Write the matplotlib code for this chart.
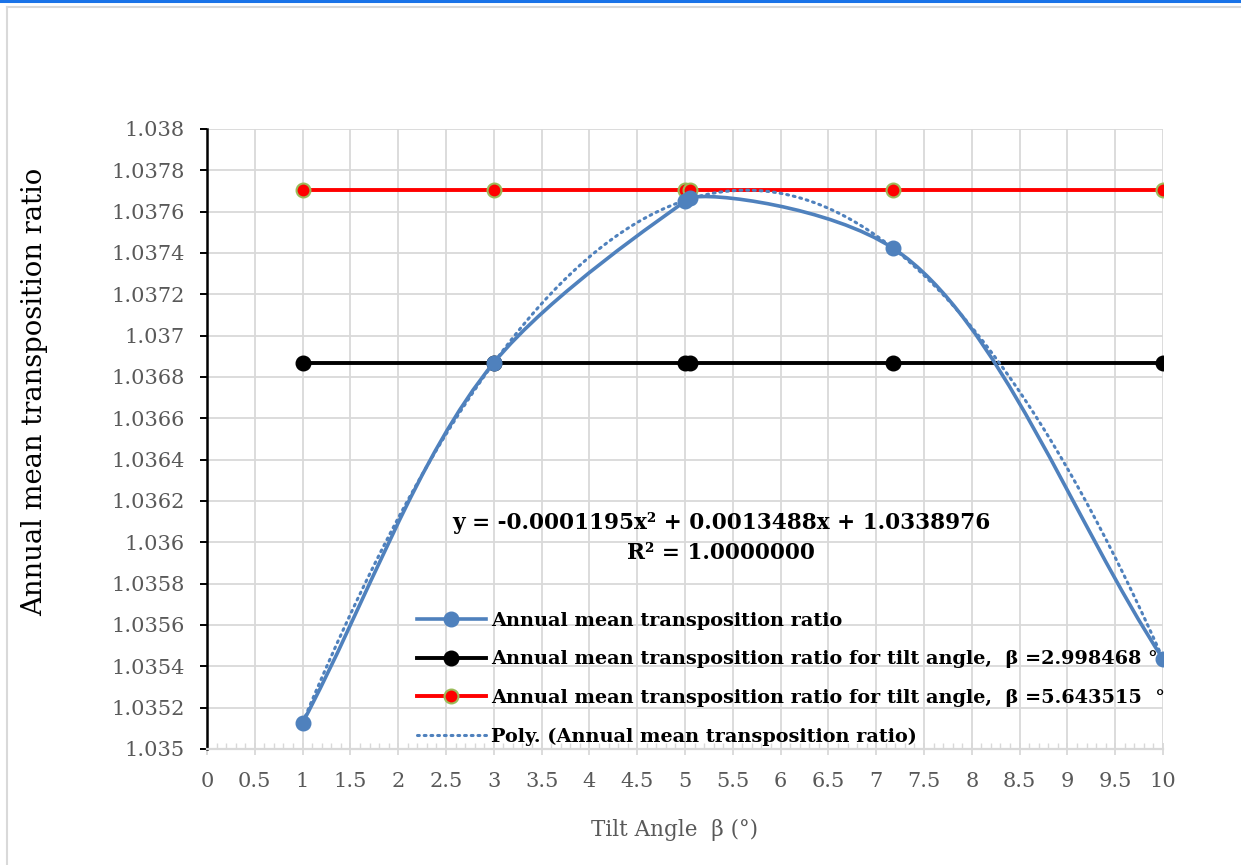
import numpy as np
import matplotlib
matplotlib.use("Agg")
import matplotlib.pyplot as plt
from matplotlib.path import Path
from matplotlib.patches import PathPatch
from matplotlib.lines import Line2D
from matplotlib.ticker import MultipleLocator, FuncFormatter

plt.rcParams["font.family"] = "DejaVu Serif"

# values
tilt = [1, 3, 5, 5.05, 7.18, 10]
ratio = [1.035127, 1.036869, 1.037650, 1.037666, 1.037422, 1.035436]
beta_low = 2.998468
ratio_low = 1.036869
beta_high = 5.643515
ratio_high = 1.0377037

label_main = "Annual mean transposition ratio"
label_low = "Annual mean transposition ratio for tilt angle,  \u03b2 =2.998468 \u00b0"
label_high = "Annual mean transposition ratio for tilt angle,  \u03b2 =5.643515  \u00b0"
label_poly = "Poly. (Annual mean transposition ratio)"
eq_text = "y = -0.0001195x\u00b2 + 0.0013488x + 1.0338976\nR\u00b2 = 1.0000000"

blue = "#4f81bd"
grid_c = "#d9d9d9"
tick_c = "#595959"

fig = plt.figure(figsize=(12.41, 8.65), dpi=100)
ax = fig.add_axes([207 / 1241, 1 - 749 / 865, (1163 - 207) / 1241, (749 - 129) / 865])
ax.set_xlim(0, 10)
ax.set_ylim(1.035, 1.038)


def smooth_path(xs, ys, sx, sy, alpha=0.5):
    # Excel-like smoothed line: centripetal Catmull-Rom turned into Bezier segments
    P = np.column_stack([np.array(xs) * sx, np.array(ys) * sy])
    P = np.vstack([2 * P[0] - P[1], P, 2 * P[-1] - P[-2]])
    verts = [P[1]]
    codes = [Path.MOVETO]
    for i in range(1, len(P) - 2):
        p0, p1, p2, p3 = P[i - 1], P[i], P[i + 1], P[i + 2]
        d1 = np.linalg.norm(p1 - p0) ** alpha
        d2 = np.linalg.norm(p2 - p1) ** alpha
        d3 = np.linalg.norm(p3 - p2) ** alpha
        b1 = (d1**2 * p2 - d2**2 * p0 + (2 * d1**2 + 3 * d1 * d2 + d2**2) * p1) / (3 * d1 * (d1 + d2))
        b2 = (d3**2 * p1 - d2**2 * p3 + (2 * d3**2 + 3 * d3 * d2 + d2**2) * p2) / (3 * d3 * (d3 + d2))
        verts += [b1, b2, p2]
        codes += [Path.CURVE4] * 3
    verts = np.array(verts)
    verts[:, 0] /= sx
    verts[:, 1] /= sy
    return Path(verts, codes)


# pixel-like scaling so the smoothing matches the screen aspect
sx, sy = 95.6, 206667.0
ax.add_patch(PathPatch(smooth_path(tilt, ratio, sx, sy, 0.6), fill=False, ec=blue, lw=2.6,
                       capstyle="round", zorder=4))
ax.plot(tilt, ratio, ls="none", marker="o", ms=10.5, color=blue, zorder=5)

# horizontal reference series
ax.plot(tilt, [ratio_low] * len(tilt), color="black", lw=2.8, marker="o", ms=10.5, zorder=3)
ax.plot(tilt, [ratio_high] * len(tilt), color="#ff0000", lw=2.8, marker="o", ms=10,
        mfc="#ff0000", mec="#9bbb59", mew=1.5, zorder=3)

# polynomial trendline
coef = np.polyfit(tilt, ratio, 2)
xt = np.linspace(min(tilt), max(tilt), 300)
ax.plot(xt, np.polyval(coef, xt), color=blue, lw=2.2, ls=(0, (0.6, 1.6)),
        dash_capstyle="round", zorder=4)

ax.text(5.377, 1.036021, eq_text, ha="center", va="center", fontsize=15.6, fontweight="bold",
        linespacing=1.45)

# legend
handles = [
    Line2D([], [], color=blue, lw=2.6, marker="o", ms=10.5),
    Line2D([], [], color="black", lw=2.8, marker="o", ms=10.5),
    Line2D([], [], color="#ff0000", lw=2.8, marker="o", ms=10, mfc="#ff0000", mec="#9bbb59", mew=1.5),
    Line2D([], [], color=blue, lw=2.2, ls=(0, (0.6, 1.6)), dash_capstyle="round"),
]
leg = fig.legend(handles, [label_main, label_low, label_high, label_poly],
                 loc="upper left", bbox_to_anchor=(409 / 1241, 1 - 604 / 865), frameon=False,
                 prop={"weight": "bold", "size": 13.9}, handlelength=3.6, handletextpad=0.25,
                 labelspacing=1.07, borderaxespad=0)

# grid and axes styling
ax.xaxis.set_major_locator(MultipleLocator(0.5))
ax.xaxis.set_minor_locator(MultipleLocator(0.1))
ax.yaxis.set_major_locator(MultipleLocator(0.0002))
ax.grid(True, which="major", color=grid_c, lw=1.3, zorder=0)
ax.set_axisbelow(True)
ax.xaxis.set_major_formatter(FuncFormatter(lambda v, p: f"{v:g}"))
ax.yaxis.set_major_formatter(FuncFormatter(lambda v, p: f"{v:.4f}".rstrip("0").rstrip(".")))

for s in ["top", "right"]:
    ax.spines[s].set_visible(False)
ax.spines["left"].set_color("black")
ax.spines["left"].set_linewidth(1.8)
ax.spines["bottom"].set_color(grid_c)
ax.spines["bottom"].set_linewidth(1.6)

ax.tick_params(axis="y", which="major", direction="out", length=5, width=1.4, color="black",
               labelsize=15, labelcolor=tick_c, pad=11)
ax.tick_params(axis="x", which="major", direction="inout", length=9, width=1.3, color=grid_c,
               labelsize=15, labelcolor=tick_c, pad=12)
ax.tick_params(axis="x", which="minor", direction="in", length=4, width=1.0, color=grid_c)

ax.set_ylabel("Annual mean transposition ratio", fontsize=19.7, color="black")
ax.yaxis.set_label_coords(-0.166, 0.576)
ax.set_xlabel("Tilt Angle  \u03b2 (\u00b0)", fontsize=15.5, color=tick_c)
ax.xaxis.set_label_coords(0.4895, -0.113)

# outer frame like the screenshot
fig.add_artist(Line2D([0, 1], [1 - 1 / 865, 1 - 1 / 865], color="#1a73e8", lw=2.2))
fig.add_artist(Line2D([7 / 1241, 1], [1 - 7 / 865, 1 - 7 / 865], color=grid_c, lw=1.5))
fig.add_artist(Line2D([7 / 1241, 7 / 1241], [0, 1 - 7 / 865], color=grid_c, lw=1.5))

fig.savefig("out.png", dpi=100)
